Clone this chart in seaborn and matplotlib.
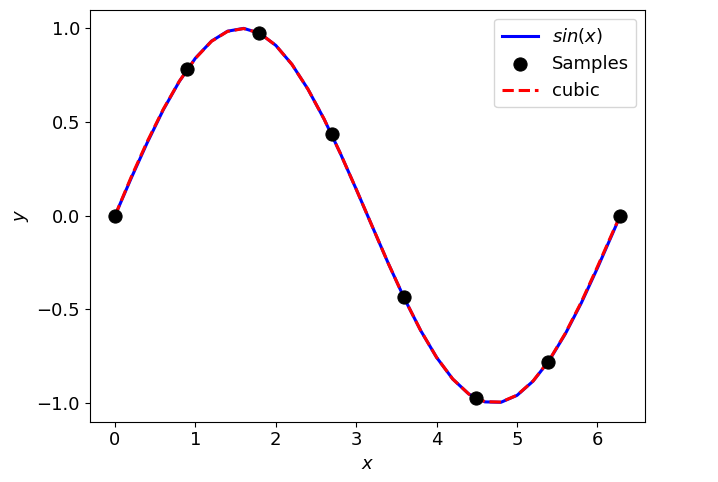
import matplotlib
matplotlib.use("Agg")
import matplotlib.pyplot as plt
import seaborn as sns

curve_x = [0, 0.2, 0.4, 0.6, 0.8, 1.0, 1.2, 1.4, 1.6, 1.8, 2.0, 2.2, 2.4, 2.6, 2.8, 3.0,
           3.2, 3.4, 3.6, 3.8, 4.0, 4.2, 4.4, 4.6, 4.8, 5.0, 5.2, 5.4, 5.6, 5.8, 6.0, 6.2, 6.283]
sin_y = [0, .199, .389, .565, .717, .841, .932, .985, 1.000, .974, .909, .808, .675, .516, .335, .141,
         -.058, -.256, -.443, -.612, -.757, -.872, -.952, -.994, -.996, -.959, -.883, -.773, -.631, -.465, -.279, -.083, 0]
cubic_y = [0, .205, .395, .568, .718, .840, .931, .984, .999, .974, .909, .808, .675, .516, .335, .141,
           -.058, -.256, -.443, -.612, -.757, -.872, -.952, -.993, -.995, -.958, -.882, -.771, -.628, -.460, -.272, -.078, 0]
sample_x = [0, 0.898, 1.795, 2.693, 3.590, 4.488, 5.386, 6.283]
sample_y = [0, 0.782, 0.975, 0.434, -0.434, -0.975, -0.782, 0]

plt.rcParams.update({"font.size": 13})
fig = plt.figure(figsize=(7.18, 4.82), dpi=100)
ax = fig.add_axes([0.125, 0.125, 0.774, 0.855])
sns.lineplot(x=curve_x, y=sin_y, ax=ax, color="blue", lw=2.2, label="$sin(x)$")
sns.scatterplot(x=sample_x, y=sample_y, ax=ax, color="black", s=90, edgecolor="black", zorder=5, label="Samples")
sns.lineplot(x=curve_x, y=cubic_y, ax=ax, color="red", lw=2.2, ls="--", label="cubic", zorder=4)
ax.set_xlabel("$x$")
ax.set_ylabel("$y$")
ax.set_xticks([0, 1, 2, 3, 4, 5, 6])
ax.set_yticks([-1.0, -0.5, 0.0, 0.5, 1.0])
ax.set_xlim(-0.314, 6.597)
ax.set_ylim(-1.1, 1.1)
ax.legend(loc="upper right")
fig.savefig("out.png", dpi=100)
